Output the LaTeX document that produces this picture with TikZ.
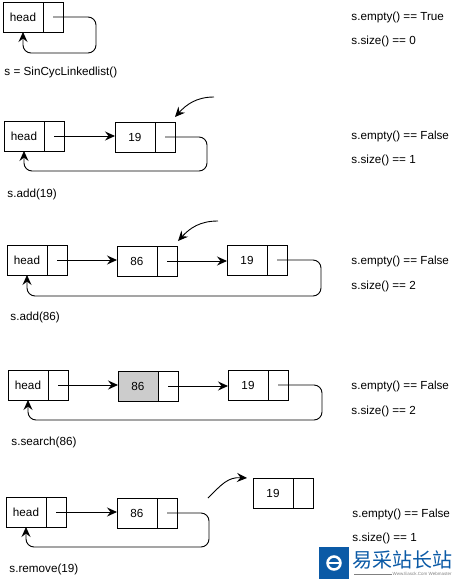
\documentclass[tikz,border=0pt]{standalone}
\usepackage{fontspec}
\setmainfont{Liberation Sans}
\newfontfamily\cjkfont{Noto Sans CJK SC}
\usepackage{xcolor}
\usetikzlibrary{arrows.meta,positioning,calc}
\definecolor{logoblue}{HTML}{0B5AA6}
\begin{document}
\begin{tikzpicture}[x=1pt,y=-1pt,>={Stealth[length=10pt,width=9pt,inset=3.5pt]},line width=0.9pt,
  font=\fontsize{11.7}{13}\selectfont,
  data/.style={draw,minimum width=40pt,minimum height=30pt,inner sep=0pt,outer sep=0pt},
  ptr/.style={draw,minimum width=20pt,minimum height=30pt,inner sep=0pt,outer sep=0pt},
  lab/.style={anchor=west,inner sep=0pt},
  link/.style={->,rounded corners=8pt}]
\useasboundingbox (0,0) rectangle (453,579);
% empty list
\node[data] (H1) at (23,17) {head};
\node[ptr] (P1) at (53,17) {};
\draw[link] (P1.center)--(96,17)--(96,53)--(23,53)--(H1.south);
\node[lab] (L1) at (4,72) {s = SinCycLinkedlist()};
\node[lab] (E1) at (351,17) {s.empty() == True};
\node[lab] (S1) at (351,41) {s.size() == 0};
% add 19
\node[data] (H2) at (24,136) {head};
\node[ptr] (P2) at (54,136) {};
\node[data] (A2) at (135,137) {19};
\node[ptr] (B2) at (165,137) {};
\coordinate (N2) at (214,97);
\draw[->] (P2.center)--(P2.center -| A2.west);
\draw[link] (B2.center)--(207,137)--(207,171)--(24,171)--(H2.south);
\draw[->] (N2) .. controls (196,97) and (186,105) .. (175,117);
\node[lab] (L2) at (7,194) {s.add(19)};
\node[lab] (E2) at (351,136) {s.empty() == False};
\node[lab] (S2) at (351,160) {s.size() == 1};
% add 86
\node[data] (H3) at (27,260) {head};
\node[ptr] (P3) at (57,260) {};
\node[data] (A3) at (137,261) {86};
\node[ptr] (B3) at (167,261) {};
\node[data] (C3) at (247,260) {19};
\node[ptr] (D3) at (277,260) {};
\coordinate (N3) at (218,221);
\draw[->] (P3.center)--(P3.center -| A3.west);
\draw[->] (B3.center)--(B3.center -| C3.west);
\draw[link] (D3.center)--(321,260)--(321,296)--(27,296)--(H3.south);
\draw[->] (N3) .. controls (200,221) and (190,228) .. (178,241);
\node[lab] (L3) at (10,317) {s.add(86)};
\node[lab] (E3) at (351,261) {s.empty() == False};
\node[lab] (S3) at (351,286) {s.size() == 2};
% search 86
\node[data] (H4) at (28,385) {head};
\node[ptr] (P4) at (58,385) {};
\node[data,fill=black!20] (A4) at (138,386) {86};
\node[ptr] (B4) at (168,386) {};
\node[data] (C4) at (248,385) {19};
\node[ptr] (D4) at (278,385) {};
\draw[->] (P4.center)--(P4.center -| A4.west);
\draw[->] (B4.center)--(B4.center -| C4.west);
\draw[link] (D4.center)--(322,385)--(322,420)--(28,420)--(H4.south);
\node[lab] (L4) at (11,442) {s.search(86)};
\node[lab] (E4) at (351,386) {s.empty() == False};
\node[lab] (S4) at (351,411) {s.size() == 2};
% remove 19
\node[data] (H5) at (26,512) {head};
\node[ptr] (P5) at (56,512) {};
\node[data] (A5) at (137,513) {86};
\node[ptr] (B5) at (167,513) {};
\node[data] (C5) at (273,493) {19};
\node[ptr] (D5) at (303,493) {};
\coordinate (N5) at (208,498);
\coordinate (M5) at (247,478);
\draw[->] (P5.center)--(P5.center -| A5.west);
\draw[link] (B5.center)--(209,513)--(209,547)--(26,547)--(H5.south);
\draw[->] (N5) .. controls (222,484) and (228,477) .. (M5);
\node[lab] (L5) at (9,569) {s.remove(19)};
\node[lab] (E5) at (352,514) {s.empty() == False};
\node[lab] (S5) at (352,538) {s.size() == 1};
% watermark
\fill[logoblue] (319,547) rectangle (349,579);
\draw[white,line width=2.5pt] (334,563) circle (6.5pt);
\fill[white] (329,562) rectangle (339,564);
\node[anchor=west,inner sep=0pt,text=logoblue,font=\cjkfont\fontsize{20}{22}\selectfont] (W1) at (352,560) {易采站长站};
\node[anchor=east,inner sep=0pt,text=gray,font=\fontsize{4.5}{5}\selectfont] (W2) at (452,574) {Www.Easck.Com Webmaster};
\draw[gray,line width=0.4pt] (354,574)--(W2.west);
\end{tikzpicture}
\end{document}
